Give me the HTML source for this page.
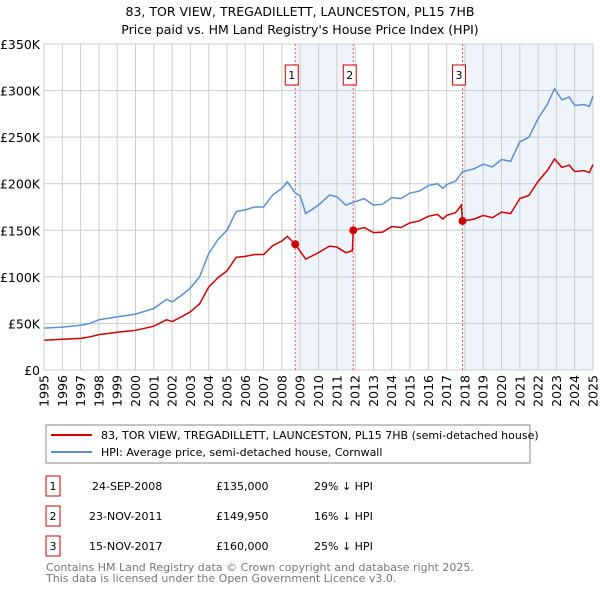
<!DOCTYPE html>
<html><head><meta charset="utf-8"><style>
body{margin:0;background:#fff;font-family:"Liberation Sans","DejaVu Sans",sans-serif;}
svg text{font-family:"DejaVu Sans","Liberation Sans",sans-serif;}
</style></head><body>
<svg id="c" width="600" height="590" xmlns="http://www.w3.org/2000/svg">
<text x="300" y="16" font-size="12.5" text-anchor="middle">83, TOR VIEW, TREGADILLETT, LAUNCESTON, PL15 7HB</text>
<text x="300" y="34" font-size="12.5" text-anchor="middle">Price paid vs. HM Land Registry's House Price Index (HPI)</text>
<g id="plot"></g>
<rect x="46" y="425" width="484" height="38" fill="#fff" stroke="#888"/>
<line x1="51" y1="435" x2="92" y2="435" stroke="#cc0000" stroke-width="2"/>
<text x="101" y="439" font-size="11">83, TOR VIEW, TREGADILLETT, LAUNCESTON, PL15 7HB (semi-detached house)</text>
<line x1="51" y1="452" x2="92" y2="452" stroke="#5b8fd4" stroke-width="2"/>
<text x="101" y="456" font-size="11">HPI: Average price, semi-detached house, Cornwall</text>
<g font-size="11">
<rect x="46" y="476" width="14" height="20" fill="none" stroke="#cc0000"/><text x="53" y="490" text-anchor="middle">1</text>
<text x="92" y="490">24-SEP-2008</text><text x="216" y="490">£135,000</text><text x="314" y="490">29% ↓ HPI</text>
<rect x="46" y="506" width="14" height="20" fill="none" stroke="#cc0000"/><text x="53" y="520" text-anchor="middle">2</text>
<text x="89" y="520">23-NOV-2011</text><text x="216" y="520">£149,950</text><text x="314" y="520">16% ↓ HPI</text>
<rect x="46" y="536" width="14" height="20" fill="none" stroke="#cc0000"/><text x="53" y="550" text-anchor="middle">3</text>
<text x="89" y="550">15-NOV-2017</text><text x="216" y="550">£160,000</text><text x="314" y="550">25% ↓ HPI</text>
</g>
<text x="46" y="571" font-size="11" fill="#777">Contains HM Land Registry data © Crown copyright and database right 2025.</text>
<text x="46" y="582" font-size="11" fill="#777">This data is licensed under the Open Government Licence v3.0.</text>
</svg>
<script>
const yTicks=[0,50,100,150,200,250,300,350];
const yTickLabels=["£0","£50K","£100K","£150K","£200K","£250K","£300K","£350K"];
const xTickYears=[1995,1996,1997,1998,1999,2000,2001,2002,2003,2004,2005,2006,2007,2008,2009,2010,2011,2012,2013,2014,2015,2016,2017,2018,2019,2020,2021,2022,2023,2024,2025];
const hpiYears=[1995,1996,1997,1997.5,1998,1999,2000,2001,2001.7,2002,2002.5,2003,2003.5,2004,2004.5,2005,2005.5,2006,2006.5,2007,2007.5,2008,2008.3,2008.73,2009,2009.3,2010,2010.6,2011,2011.5,2011.9,2012.5,2013,2013.5,2014,2014.5,2015,2015.5,2016,2016.5,2016.8,2017,2017.5,2017.87,2018.5,2019,2019.5,2020,2020.5,2021,2021.5,2022,2022.5,2022.9,2023.3,2023.7,2024,2024.5,2024.8,2025];
const hpiValues=[45,46,48,50,54,57,60,66,76,73,80,88,100,125,140,150,170,172,175,175,188,195,202,190,187,168,177,188,186,177,180,184,177,178,185,184,190,192,198,200,195,199,203,213,216,221,218,226,224,245,250,270,285,302,290,293,284,285,283,294];
const priceYears=[1995,1996,1997,1997.5,1998,1999,2000,2001,2001.7,2002,2002.5,2003,2003.5,2004,2004.5,2005,2005.5,2006,2006.5,2007,2007.5,2008,2008.3,2008.73,2009.3,2010,2010.6,2011,2011.5,2011.85,2011.9,2012.5,2013,2013.5,2014,2014.5,2015,2015.5,2016,2016.5,2016.8,2017,2017.5,2017.8,2017.87,2018.5,2019,2019.5,2020,2020.5,2021,2021.5,2022,2022.5,2022.9,2023.3,2023.7,2024,2024.5,2024.8,2025];
const priceValues=[32,33,34,35.5,38,40.5,42.6,47,54,52,57,62.5,71,89,99,106.5,121,122,124,124,133.5,138.5,143.5,135,119,126,133,132,126,128,150,153,147.5,148,154,153,158,160,165,167,162,166,169,177,160,162,166,163.5,169.5,168,184,187.5,202.5,214,226.5,217.5,220,213,214,212,220.5];
const saleYears=[2008.73,2011.9,2017.87];
const saleValues=[135,149.95,160];
const saleLabels=["1","2","3"];

const X0=44,X1=593,Y0=370,Y1=44;
const xs=y=>X0+(y-1995)/(2025-1995)*(X1-X0);
const ys=v=>Y0-v/350*(Y0-Y1);
const NS="http://www.w3.org/2000/svg";
const g=document.getElementById('plot');
function mk(t,a){const e=document.createElementNS(NS,t);for(const k in a)e.setAttribute(k,a[k]);g.appendChild(e);return e;}
let s1=mk('rect',{x:xs(saleYears[0]),y:Y1,width:xs(saleYears[1])-xs(saleYears[0]),height:Y0-Y1,fill:'#eef3fc'});


let s2=mk('rect',{x:xs(saleYears[2]),y:Y1,width:X1-xs(saleYears[2]),height:Y0-Y1,fill:'#eef3fc'});


yTicks.forEach((v,i)=>{
  const l=mk('line',{x1:X0,x2:X1,y1:ys(v),y2:ys(v),stroke:'#ccc'});
  
  
  const t=mk('text',{x:X0-4,y:ys(v)+5,'font-size':'12.5','text-anchor':'end'});
  t.textContent=yTickLabels[i];
  
  
});
xTickYears.forEach(yr=>{
  const l=mk('line',{x1:xs(yr),x2:xs(yr),y1:Y1,y2:Y0,stroke:'#ccc'});
  
  
  const tx=xs(yr)+4.5, ty=375;
  const t=mk('text',{x:tx,y:ty,'font-size':'12.5','text-anchor':'end',transform:'rotate(-90 '+tx+' '+ty+')'});
  t.textContent=yr;
  
  
});
saleYears.forEach((yr,i)=>{
  const l=mk('line',{x1:xs(yr),x2:xs(yr),y1:Y1,y2:Y0,stroke:'#e55','stroke-dasharray':'2,2'});
  
  
  const r=mk('rect',{x:xs(yr)-10,y:65,width:13,height:20,fill:'#fff',stroke:'#cc0000'});
  
  
  const t=mk('text',{x:xs(yr)-3.5,y:79,'font-size':'11','text-anchor':'middle'});
  t.textContent=saleLabels[i];
  
  
});
const hp=mk('polyline',{points:hpiYears.map((y,i)=>xs(y)+','+ys(hpiValues[i])).join(' '),fill:'none',stroke:'#5b8fd4','stroke-width':1.5});


const pp=mk('polyline',{points:priceYears.map((y,i)=>xs(y)+','+ys(priceValues[i])).join(' '),fill:'none',stroke:'#cc0000','stroke-width':1.5});


saleYears.forEach((yr,i)=>{
  const c=mk('circle',{cx:xs(yr),cy:ys(saleValues[i]),r:4,fill:'#cc0000'});
  
  
});
const ax=mk('line',{x1:X0,x2:X0,y1:Y1,y2:Y0,stroke:'#ccc'});


</script>
</body></html>
